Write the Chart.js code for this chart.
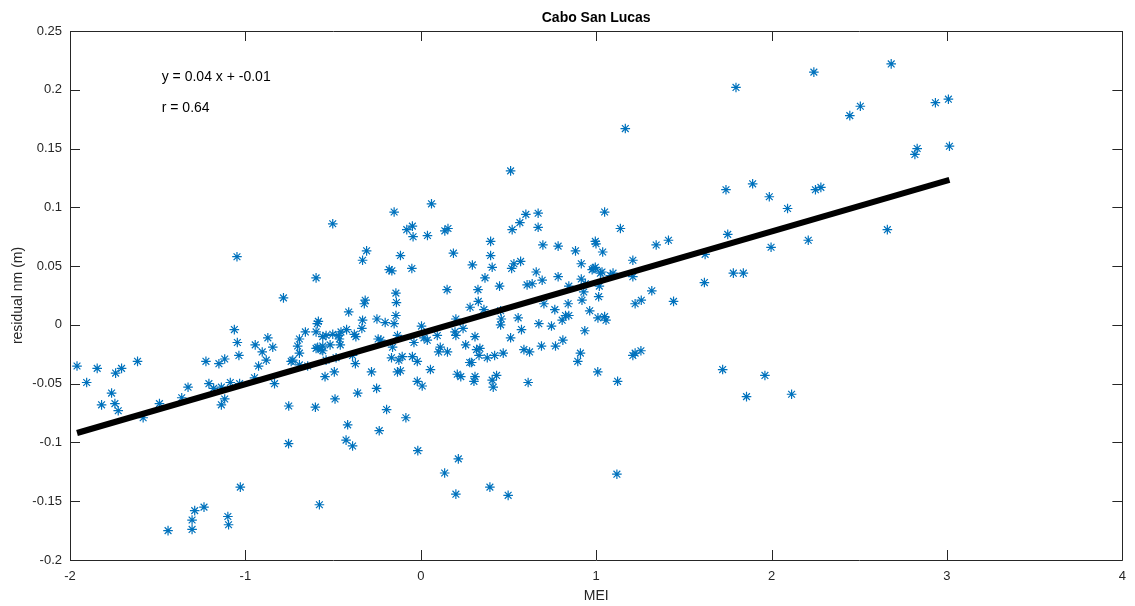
<!DOCTYPE html>
<html>
<head>
<meta charset="utf-8">
<title>Cabo San Lucas</title>
<script src="https://cdn.jsdelivr.net/npm/chart.js@4.4.0/dist/chart.umd.min.js"></script>
<style>
  html, body { margin: 0; padding: 0; background: #ffffff; }
  #wrap { width: 1135px; height: 606px; position: relative; }
</style>
</head>
<body>
<div id="wrap"><canvas id="meiChart" width="1135" height="606"></canvas></div>
<script>
// MEI index vs. residual sea level, Cabo San Lucas
const meiValues = [
  -1.96, -1.905, -1.845, -1.82, -1.763, -1.74, -1.706, -1.744, -1.725, -1.615, -1.583, -1.49, -1.363, -1.327,
  -1.225, -1.208, -1.181, -1.151, -1.118, -1.137, -1.118, -1.086, -1.063, -1.046, -1.037, -1.033, -1.137,
  -0.944, -0.904, -0.881, -0.844, -0.925, -0.834, -0.948, -0.702, -0.692, -0.739, -0.730, -0.753, -0.754, -1.029,
  -1.441, -1.304, -1.304, -1.289, -1.236, -1.10, -1.096, -0.578,
  -0.601, -0.546, -0.493, -0.489, -0.417, -0.426, -0.389, -0.36, -0.373, -0.281, -0.252, -0.237, -0.195,
  -0.692, -0.645, -0.483, -0.389,
  -1.048, -0.502, -0.783, -0.597, -0.332, -0.309, -0.411, -0.322, -0.317, -0.25, -0.203, -0.332, -0.18,
  -0.872, -0.692, -0.658, -0.597, -0.584, -0.59, -0.559, -0.54, -0.502, -0.468, -0.464, -0.455, -0.423,
  -0.379, -0.37, -0.336, -0.243, -0.588, -0.559, -0.517, -0.459,
  -0.142, -0.139, -0.165, -0.152, -0.142,
  -0.597, -0.569, -0.559, -0.54, -0.167, -0.161, -0.228, -0.133,
  -0.116, -0.051, 0.186, 0.398, 0.294, 0.407, 0.518, 0.531, 0.569, 0.658, 0.783, 0.692, 0.606, 0.635,
  0.366, 0.449, 0.15, 0.326, 0.328, 0.281, 0.36,
  0.004, 0.2, 0.241, 0.195, 0.2, 0.094, -0.039, 0.018, 0.037, 0.309, 0.256, 0.111, 0.102, 0.152,
  0.318, 0.337, 0.332, 0.379, 0.421, 0.47,
  0.455, 0.459, 0.455, 0.555, 0.574, 0.512, 0.673, 0.745, 0.806, 0.825, 0.764, 0.702, 0.84, 0.81,
  0.768, 0.688, 0.588, 0.62,
  -0.106, -0.125, -0.116, -0.048, -0.02, 0.055, 0.279, 0.29, 0.208, 0.228, 0.309, 0.303, 0.407, 0.432,
  0.413, 0.612, -0.02, 0.008, -0.085, -0.133,
  -0.017, 0.214, 0.136, 0.2, 0.394, 0.498, 1.118,
  0.895, 0.91, 1.009, 1.122, 1.209, 1.222, 1.255,
  1.138, 0.995, 0.999, 0.882, 1.037, 1.342, 1.412, 1.75, 0.915, 0.986, 0.995, 0.977, 1.024, 1.033,
  1.096, 1.081, 1.209, 1.209, 0.915, 0.844, 0.938, 0.929, 1.018, 1.014, 0.919, 0.844, 0.963, 1.01,
  1.048, 1.056, 0.935, 1.317, 1.257, 1.222, 1.441, 1.617, 1.621, 1.782, 1.839, 1.721,
  1.797, 2.241, 2.682, 2.506, 2.446, 2.934, 3.008, 2.83, 2.817, 3.014, 1.74, 1.892, 1.987, 2.091,
  2.25, 2.281, 1.997, 2.209, 2.66,
  1.962, 1.857, 2.114,
  1.166, 0.512,
  -0.152, 0.061, -0.08, -0.048, -0.044, 0.038, 0.137, 0.155, 0.398, 0.521, 0.565, 0.599, 0.669, 0.669,
  0.696, 0.783, 1.048
];

const residualValues = [
  -0.035, -0.049, -0.037, -0.068, -0.058, -0.041, -0.037, -0.067, -0.073, -0.031, -0.079, -0.067, -0.062, -0.053,
  -0.031, -0.050, -0.054, -0.033, -0.029, -0.068, -0.063, -0.049, -0.004, -0.015, -0.026, -0.050, -0.053,
  -0.017, -0.023, -0.030, -0.019, -0.035, -0.050, -0.045, -0.018, -0.024, -0.031, -0.030, -0.069, -0.101, -0.138,
  -0.175, -0.174, -0.166, -0.158, -0.155, -0.163, -0.170, -0.153,
  -0.070, -0.044, -0.040, -0.063, -0.085, -0.098, -0.103, -0.058, -0.033, -0.040, -0.054, -0.090, -0.072,
  -0.034, -0.035, -0.028, -0.026,
  0.058, 0.086, 0.023, 0.040, 0.055, 0.063, 0.011, 0.018, 0.021, 0.005, 0.002, 0.004, 0.047,
  -0.011, -0.012, -0.006, -0.006, 0.003, 0.001, -0.010, -0.009, -0.008, -0.009, -0.012, -0.006, -0.004,
  -0.008, -0.010, -0.003, -0.012, -0.019, -0.018, -0.017, -0.017,
  0.027, 0.019, 0.046, 0.001, 0.008,
  -0.020, -0.021, -0.022, -0.030, -0.028, -0.019, -0.013, -0.040,
  0.059, 0.048, 0.061, 0.059, 0.051, 0.049, 0.048, 0.052, 0.054, 0.045, 0.041, 0.038, 0.034, 0.035,
  0.040, 0.033, 0.030, 0.030, 0.020, 0.015, 0.013,
  -0.001, 0.005, -0.003, -0.006, -0.009, -0.009, -0.015, -0.011, -0.013, -0.010, -0.017, -0.019, -0.023, -0.023,
  -0.021, -0.020, -0.026, -0.028, -0.026, -0.024,
  0.012, 0.005, 0.000, 0.006, -0.004, -0.011, 0.001, -0.001, 0.004, 0.008, 0.013, 0.018, 0.018, -0.013,
  -0.018, -0.018, -0.021, -0.023,
  -0.027, -0.030, -0.039, -0.027, -0.031, -0.038, -0.032, -0.032, -0.042, -0.044, -0.044, -0.048, -0.047, -0.043,
  -0.053, -0.049, -0.048, -0.052, -0.079, -0.009,
  -0.107, -0.114, -0.126, -0.144, -0.138, -0.145, -0.127,
  -0.031, -0.024, -0.040, -0.048, -0.026, -0.024, -0.022,
  0.082, 0.071, 0.069, 0.063, 0.062, 0.068, 0.072, 0.077, 0.052, 0.048, 0.049, 0.047, 0.044, 0.045,
  0.044, 0.042, 0.055, 0.041, 0.039, 0.033, 0.035, 0.028, 0.033, 0.024, 0.021, 0.008, 0.012, 0.006,
  0.007, 0.004, -0.005, 0.029, 0.021, 0.018, 0.020, 0.036, 0.060, 0.044, 0.044, -0.038,
  0.202, 0.215, 0.222, 0.186, 0.178, 0.189, 0.192, 0.150, 0.145, 0.152, 0.115, 0.120, 0.109, 0.099,
  0.115, 0.117, 0.066, 0.072, 0.081,
  -0.043, -0.061, -0.059,
  0.167, 0.131,
  0.096, 0.103, 0.081, 0.084, 0.075, 0.076, 0.080, 0.082, 0.071, 0.081, 0.087, 0.094, 0.095, 0.083,
  0.068, 0.067, 0.096
];

// least-squares fit and correlation
const fitSlope = [0.0433];
const fitIntercept = [-0.0071];
const corrR = [0.64];

const xTicks = [-2, -1, 0, 1, 2, 3, 4];
const yTicks = [-0.2, -0.15, -0.1, -0.05, 0, 0.05, 0.1, 0.15, 0.2, 0.25];

const points = meiValues.map((x, i) => ({ x: x, y: residualValues[i] }));
const xMin = Math.min(...meiValues);
const xMax = Math.max(...meiValues);
const fitLine = [xMin, xMax].map(x => ({ x: x, y: fitSlope[0] * x + fitIntercept[0] }));

const axisColor = '#262626';
const fontFamily = '"Liberation Sans", Arial, Helvetica, sans-serif';

function fmt(v) {
  return String(Number(v.toFixed(2)));
}

// frame, inward ticks, title, axis labels and fit text
const matlabAxes = {
  id: 'matlabAxes',
  afterDraw(chart) {
    const ctx = chart.ctx;
    const a = chart.chartArea;
    const xs = chart.scales.x;
    const ys = chart.scales.y;
    const tickLen = 10;
    ctx.save();
    ctx.strokeStyle = axisColor;
    ctx.lineWidth = 1;
    ctx.beginPath();
    ctx.rect(Math.round(a.left) + 0.5, Math.round(a.top) + 0.5, Math.round(a.right - a.left), Math.round(a.bottom - a.top));
    xTicks.forEach(t => {
      const px = Math.round(xs.getPixelForValue(t)) + 0.5;
      ctx.moveTo(px, a.bottom); ctx.lineTo(px, a.bottom - tickLen);
      ctx.moveTo(px, a.top); ctx.lineTo(px, a.top + tickLen);
    });
    yTicks.forEach(t => {
      const py = Math.round(ys.getPixelForValue(t)) + 0.5;
      ctx.moveTo(a.left, py); ctx.lineTo(a.left + tickLen, py);
      ctx.moveTo(a.right, py); ctx.lineTo(a.right - tickLen, py);
    });
    ctx.stroke();

    ctx.fillStyle = '#000000';
    ctx.textAlign = 'center';
    ctx.textBaseline = 'middle';
    ctx.font = 'bold 14px ' + fontFamily;
    ctx.fillText('Cabo San Lucas', (a.left + a.right) / 2, 18);

    ctx.fillStyle = axisColor;
    ctx.font = '14px ' + fontFamily;
    ctx.fillText('MEI', (a.left + a.right) / 2, 596);
    ctx.save();
    ctx.translate(18, (a.top + a.bottom) / 2);
    ctx.rotate(-Math.PI / 2);
    ctx.fillText('residual nm (m)', 0, 0);
    ctx.restore();

    ctx.fillStyle = '#000000';
    ctx.textAlign = 'left';
    ctx.font = '14px ' + fontFamily;
    const tx = xs.getPixelForValue(-1.477);
    ctx.fillText('y = ' + fitSlope[0].toFixed(2) + ' x + ' + fitIntercept[0].toFixed(2), tx, ys.getPixelForValue(0.211));
    ctx.fillText('r = ' + corrR[0].toFixed(2), tx, ys.getPixelForValue(0.1845));
    ctx.restore();
  }
};

new Chart(document.getElementById('meiChart'), {
  type: 'scatter',
  data: {
    datasets: [
      {
        type: 'line',
        label: 'fit',
        data: fitLine,
        borderColor: '#000000',
        borderWidth: 6,
        pointRadius: 0,
        fill: false,
        order: 0
      },
      {
        label: 'residual',
        data: points,
        pointStyle: 'star',
        pointRadius: 4.8,
        borderColor: 'rgb(0,114,189)',
        backgroundColor: 'rgb(0,114,189)',
        pointBorderWidth: 1.2,
        order: 1
      }
    ]
  },
  options: {
    responsive: false,
    animation: false,
    events: [],
    layout: { padding: { left: 0, right: 10, top: 31, bottom: 0 } },
    plugins: {
      legend: { display: false },
      title: { display: false },
      tooltip: { enabled: false }
    },
    scales: {
      x: {
        type: 'linear',
        min: -2,
        max: 4,
        afterFit(scale) { scale.height = 46; },
        afterBuildTicks(scale) { scale.ticks = xTicks.map(v => ({ value: v })); },
        grid: { display: false, drawTicks: false },
        border: { display: false },
        ticks: {
          padding: 9,
          color: axisColor,
          font: { family: fontFamily, size: 13 },
          callback: v => fmt(v)
        }
      },
      y: {
        type: 'linear',
        min: -0.2,
        max: 0.25,
        afterFit(scale) { scale.width = 70; },
        afterBuildTicks(scale) { scale.ticks = yTicks.map(v => ({ value: v })); },
        grid: { display: false, drawTicks: false },
        border: { display: false },
        ticks: {
          padding: 8,
          color: axisColor,
          font: { family: fontFamily, size: 13 },
          callback: v => fmt(v)
        }
      }
    }
  },
  plugins: [matlabAxes]
});
</script>
</body>
</html>
